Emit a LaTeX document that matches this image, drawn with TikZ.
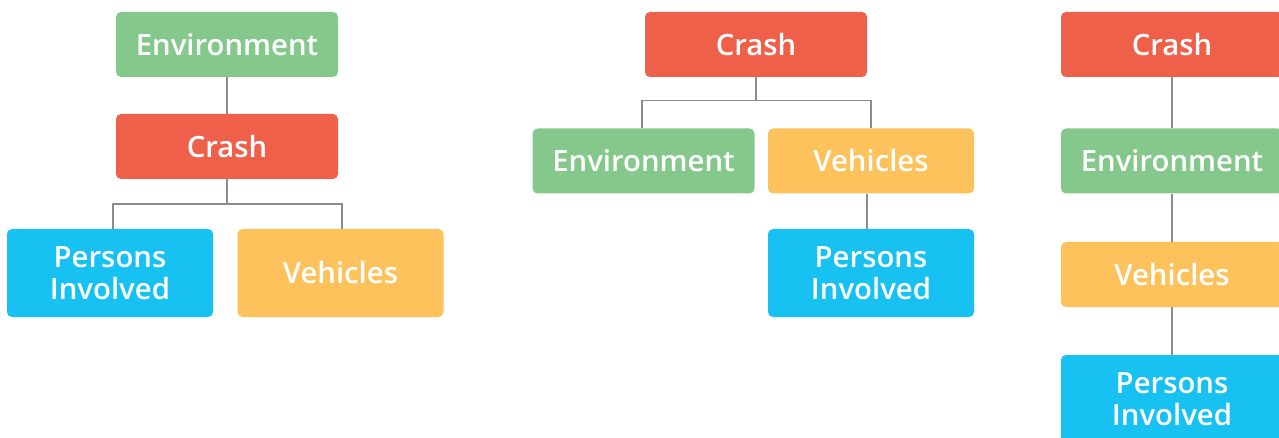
\documentclass[tikz,border=0pt]{standalone}
\usepackage{fontspec}
\setmainfont{Open Sans}[BoldFont={Open Sans Semibold}]
\definecolor{cgreen}{HTML}{84C98B}
\definecolor{cred}{HTML}{EE604A}
\definecolor{cyellow}{HTML}{FDC25B}
\definecolor{cblue}{HTML}{17C2F2}
\definecolor{cline}{HTML}{8C8C8C}
\begin{document}
\begin{tikzpicture}[x=1pt,y=-1pt,
  box/.style={rectangle,rounded corners=5pt,inner sep=0pt,text=white,
    font=\fontsize{29.3}{31.5}\selectfont\bfseries,align=center},
  wbox/.style={box,minimum width=222pt,minimum height=65pt},
  nbox/.style={box,minimum width=206pt,minimum height=65pt},
  tbox/.style={box,minimum width=206pt,minimum height=88pt},
  conn/.style={draw=cline,line width=1.4pt}]
\useasboundingbox (0,0) rectangle (1279,438);
% left group
\node[wbox,fill=cgreen] (lenv) at (227,44.5) {Environment};
\node[wbox,fill=cred] (lcrash) at (227,146.5) {Crash};
\node[tbox,fill=cblue] (lpers) at (110,273) {Persons\\Involved};
\node[tbox,fill=cyellow] (lveh) at (340.5,273) {Vehicles};
\draw[conn] (lenv.south) -- (lcrash.north);
\coordinate (lbus) at (227,204);
\draw[conn] (lcrash.south) -- (lbus);
\draw[conn] (lbus) -| ([xshift=3pt]lpers.north);
\draw[conn] (lbus) -| ([xshift=1.5pt]lveh.north);
% middle group
\node[wbox,fill=cred] (mcrash) at (756,44.5) {Crash};
\node[wbox,fill=cgreen] (menv) at (643.5,161) {Environment};
\node[nbox,fill=cyellow] (mveh) at (871,161) {Vehicles};
\node[tbox,fill=cblue] (mpers) at (871,273) {Persons\\Involved};
\coordinate (mbus) at (756,100.5);
\draw[conn] (mcrash.south) -- (mbus);
\draw[conn] (mbus) -| ([xshift=-1.5pt]menv.north);
\draw[conn] (mbus) -| (mveh.north);
\draw[conn] ([xshift=-4pt]mveh.south) -- ([xshift=-4pt]mpers.north);
% right group
\node[wbox,fill=cred] (rcrash) at (1172,44.5) {Crash};
\node[wbox,fill=cgreen] (renv) at (1172,161) {Environment};
\node[wbox,fill=cyellow] (rveh) at (1172,274.5) {Vehicles};
\node[box,minimum width=222pt,minimum height=88pt,fill=cblue] (rpers) at (1172,399) {Persons\\Involved};
\draw[conn] (rcrash.south) -- (renv.north);
\draw[conn] (renv.south) -- (rveh.north);
\draw[conn] (rveh.south) -- (rpers.north);
\end{tikzpicture}
\end{document}
